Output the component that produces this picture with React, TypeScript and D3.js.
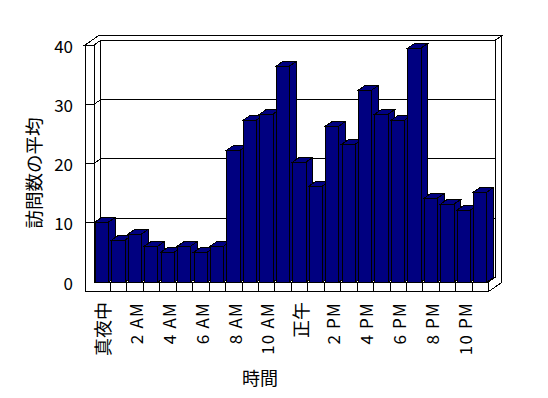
import React from 'react';
import * as d3 from 'd3';

const hours = [
  '真夜中', '1 AM', '2 AM', '3 AM', '4 AM', '5 AM', '6 AM', '7 AM', '8 AM', '9 AM', '10 AM', '11 AM',
  '正午', '1 PM', '2 PM', '3 PM', '4 PM', '5 PM', '6 PM', '7 PM', '8 PM', '9 PM', '10 PM', '11 PM',
];
const visits = [10, 7, 8, 6, 5, 6, 5, 6, 22, 27, 28, 36, 20, 16, 26, 23, 32, 28, 27, 39, 14, 13, 12, 15];
const shownLabels = hours.filter((_, i) => i % 2 === 0);
const yTicks = [0, 10, 20, 30, 40];
const gridValues = [10, 20, 30];
const yTitle = '訪問数の平均';
const xTitle = '時間';

const W = 548;
const H = 398;
const FONT = '"Noto Sans CJK JP", "Noto Sans", sans-serif';
const NAVY = '#000080';

// geometry of the 3D box
const left = 94;
const right = 488.3;
const wallOuter = 85;
const floorBottom = 291.7;
const dx = 6.7;
const dy = -4.6;

export default function App() {
  const x = d3.scaleBand<string>().domain(hours).range([left, right]).paddingInner(0.19).paddingOuter(0.08);
  const yAxis = d3.scaleLinear().domain([0, 40]).range([282, 45]);
  const yBar = d3.scaleLinear().domain([0, 40]).range([282, 42]);
  const base = yAxis(0);
  const top = yAxis(40);
  const yB = (v: number) => yAxis(v) + dy;

  const pts = (a: number[][]) => a.map((p) => p.join(',')).join(' ');
  const bw = x.bandwidth();
  const step = x.step();
  const isCJK = (s: string) => /[^\x00-\x7f]/.test(s);

  return (
    <svg width={W} height={H} style={{ position: 'absolute', left: 0, top: 0, background: '#fff' }}>
      <rect x={0} y={0} width={W} height={H} fill="#fff" />
      <g shapeRendering="crispEdges">
        {/* back wall inner face */}
        <rect x={left + dx} y={yB(40)} width={right - left} height={yB(0) - yB(40)} fill="#fff" stroke="#000" />
        {/* left wall inner face */}
        <polygon points={pts([[left, top], [left + dx, top + dy], [left + dx, base + dy], [left, base]])} fill="#fff" stroke="#000" />
        {/* top faces of left and back walls */}
        <polygon
          points={pts([
            [wallOuter, top],
            [wallOuter + 2 * dx, top + 2 * dy],
            [right + 2 * dx, top + 2 * dy],
            [right + dx, top + dy],
            [left + dx, top + dy],
            [left, top],
          ])}
          fill="#fff"
          stroke="#000"
        />
        {/* right side of back wall slab + floor slab */}
        <polygon
          points={pts([
            [right + dx, top + dy],
            [right + 2 * dx, top + 2 * dy],
            [right + 2 * dx, floorBottom + 2 * dy],
            [right, floorBottom],
            [right, base],
            [right + dx, base + dy],
          ])}
          fill="#fff"
          stroke="#000"
        />
        {/* floor top face */}
        <polygon points={pts([[left, base], [left + dx, base + dy], [right + dx, base + dy], [right, base]])} fill="#fff" stroke="#000" />
        {/* left wall front + floor front face */}
        <polygon
          points={pts([
            [wallOuter, top],
            [left, top],
            [left, base],
            [right, base],
            [right, floorBottom],
            [wallOuter, floorBottom],
          ])}
          fill="#fff"
          stroke="#000"
        />
        {/* floor dividers */}
        {hours.map((h, i) => (
          <line key={'d' + h} x1={left + (i + 1) * step} x2={left + (i + 1) * step} y1={base} y2={floorBottom} stroke="#000" />
        ))}
        {/* gridlines */}
        {gridValues.map((v) => (
          <polyline
            key={'g' + v}
            points={pts([[wallOuter, yAxis(v)], [left, yAxis(v)], [left + dx, yB(v)], [right + dx, yB(v)]])}
            fill="none"
            stroke="#000"
          />
        ))}
        {/* bars */}
        {hours.map((h, i) => {
          const x0 = x(h) as number;
          const yt = yBar(visits[i]);
          const x1 = x0 + bw;
          return (
            <g key={'b' + h} stroke="#000" strokeWidth={1} fill={NAVY} strokeLinejoin="miter">
              <polygon points={pts([[x1, yt], [x1 + dx, yt + dy], [x1 + dx, base + dy], [x1, base]])} />
              <polygon points={pts([[x0, yt], [x0 + dx, yt + dy], [x1 + dx, yt + dy], [x1, yt]])} />
              <rect x={x0} y={yt} width={bw} height={base - yt} />
            </g>
          );
        })}
      </g>
      {/* y tick labels */}
      {yTicks.map((v) => (
        <text key={'t' + v} x={73} y={yAxis(v)} textAnchor="end" dominantBaseline="central" fontFamily={FONT} fontSize={17} fill="#000">
          {v}
        </text>
      ))}
      {/* x tick labels */}
      {shownLabels.map((h) => {
        const cx = (x(h) as number) + bw / 2 + 0.5;
        const cjk = isCJK(h);
        return (
          <text
            key={'l' + h}
            transform={`translate(${cx},302) rotate(-90)`}
            textAnchor="end"
            dominantBaseline="central"
            fontFamily={FONT}
            fontSize={cjk ? 18 : 17}
            letterSpacing={cjk ? 0 : 1.2}
            fill="#000"
          >
            {h}
          </text>
        );
      })}
      <text transform="translate(33,173) rotate(-90)" textAnchor="middle" dominantBaseline="central" fontFamily={FONT} fontSize={18.5} fill="#000">
        {yTitle}
      </text>
      <text x={260} y={377} textAnchor="middle" dominantBaseline="central" fontFamily={FONT} fontSize={18} fill="#000">
        {xTitle}
      </text>
    </svg>
  );
}
